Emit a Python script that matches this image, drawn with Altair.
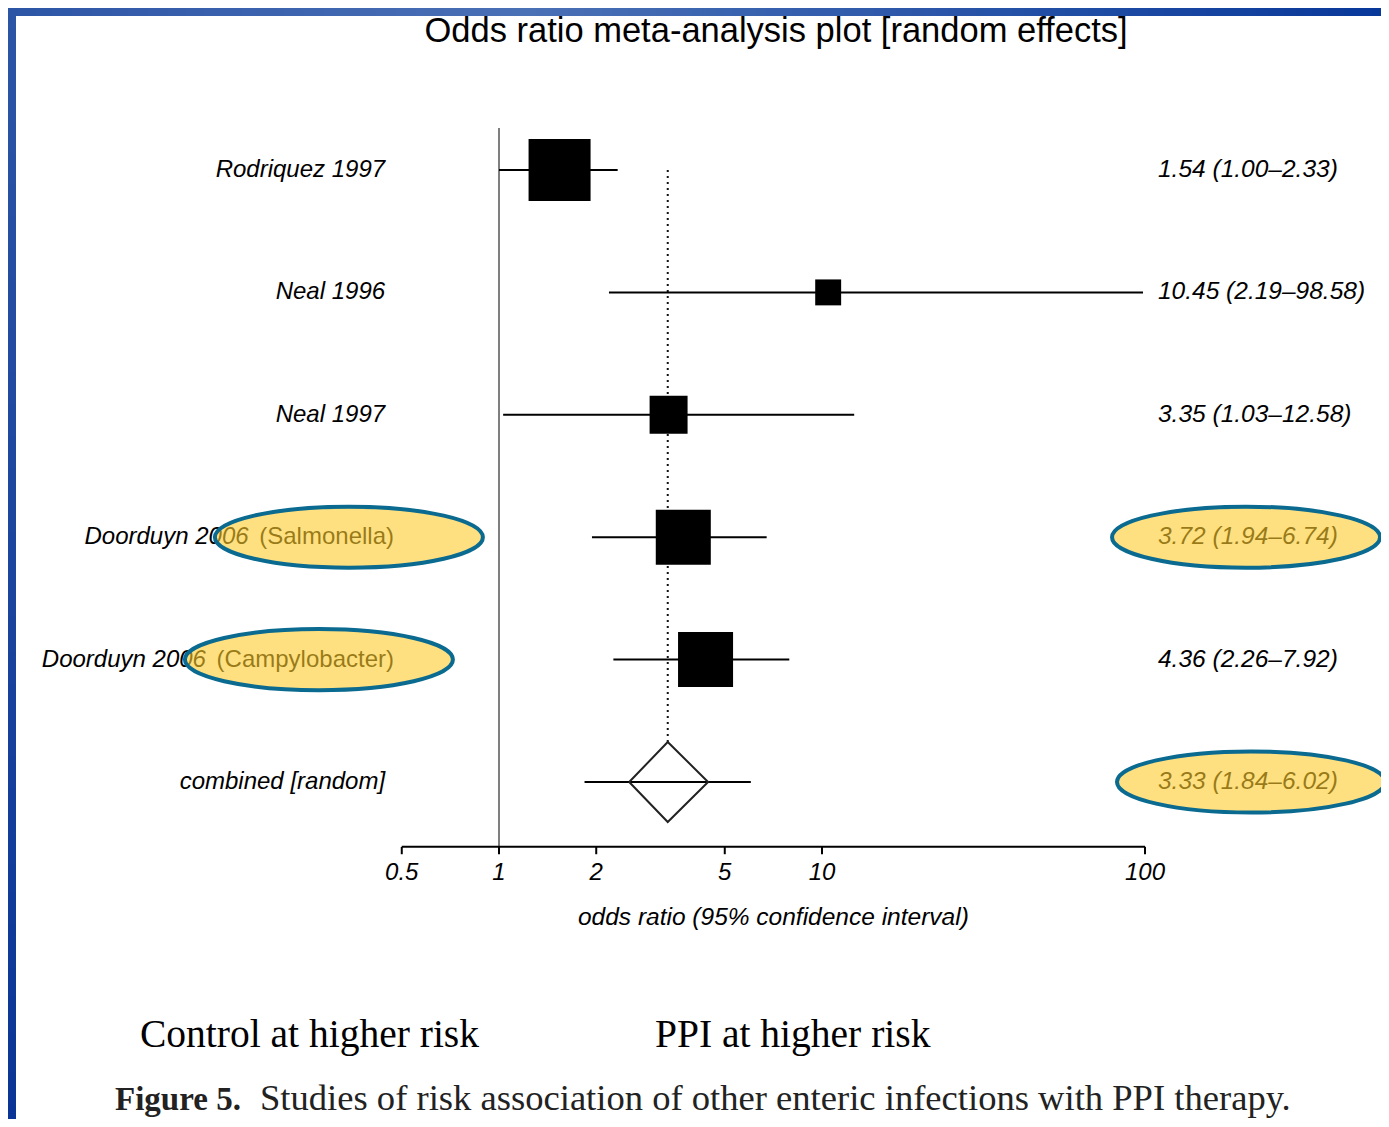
import altair as alt
import pandas as pd

# ---------------- data ----------------
studies = ["Rodriquez 1997", "Neal 1996", "Neal 1997", "Doorduyn 2006", "Doorduyn 2006"]
subgroups = ["", "", "", "(Salmonella)", "(Campylobacter)"]
odds = [1.54, 10.45, 3.35, 3.72, 4.36]
ci_low = [1.00, 2.19, 1.03, 1.94, 2.26]
ci_high = [2.33, 98.58, 12.58, 6.74, 7.92]
weights = [32.0, 5.6, 12.0, 25.2, 25.2]          # % weight -> box area

pooled_label = "combined [random]"
pooled_or = 3.33
pooled_low = 1.84
pooled_high = 6.02
diamond_low = 2.53
diamond_high = 4.44

tick_values = [0.5, 1, 2, 5, 10, 100]
tick_labels = ["0.5", "1", "2", "5", "10", "100"]

title_text = "Odds ratio meta-analysis plot [random effects]"
axis_title = "odds ratio (95% confidence interval)"
left_caption = "Control at higher risk"
right_caption = "PPI at higher risk"
fig_label = "Figure 5."
fig_caption = "Studies of risk association of other enteric infections with PPI therapy."

# highlighted labels (row, position on odds-ratio axis)
highlight_rows = [3, 4, 3, 5]
highlight_x = [0.343, 0.277, 205.5, 212.9]

# ---------------- layout ----------------
W, H = 1373, 1111
PX_DEC = 323.0      # pixels per decade
X_ONE = 491.0       # pixel of OR = 1
ROW0 = 162.0        # pixel of first row
STEP = 122.4        # pixels per row
xmin = 10 ** (-X_ONE / PX_DEC)
xmax = 10 ** ((W - X_ONE) / PX_DEC)
ymin = -ROW0 / STEP
ymax = (H - ROW0) / STEP

AXIS_ROW = 5.53
DIA_HALF = 0.327
LABEL_X = 0.444     # right edge of study labels (odds-ratio axis units)
SUFFIX_X = 0.473    # right edge of subgroup suffixes
STAT_X = 109.7      # left edge of the estimate column
LABEL_FS = 24

FONT = "Liberation Sans"
SERIF = "Liberation Serif"

# approximate Arial advance widths (per 1000 em) for the suffix text
_ARIAL = {"(": 333, ")": 333, "S": 667, "C": 722, "a": 556, "l": 222, "m": 833,
          "o": 556, "n": 556, "e": 556, "p": 556, "y": 500, "b": 556, "c": 500,
          "t": 278, "r": 333, " ": 278}


def text_width(s, fs):
    return sum(_ARIAL.get(ch, 556) for ch in s) * fs / 1000.0


xs = alt.Scale(type="log", domain=[xmin, xmax], nice=False)
ys = alt.Scale(domain=[ymin, ymax], reverse=True, nice=False, zero=False)


def X(f):
    return alt.X(f, type="quantitative", scale=xs, axis=None)


def Y(f):
    return alt.Y(f, type="quantitative", scale=ys, axis=None)


n = len(studies)
df = pd.DataFrame({
    "study": studies, "sub": subgroups, "or": odds, "lo": ci_low, "hi": ci_high,
    "w": weights, "row": list(range(n)),
})
df["stat"] = [f"{o:.2f} ({l:.2f}\u2013{h:.2f})" for o, l, h in zip(odds, ci_low, ci_high)]

pooled_row = n
labels_df = pd.DataFrame({
    "label": studies + [pooled_label],
    "sub": subgroups + [""],
    "stat": list(df["stat"]) + [f"{pooled_or:.2f} ({pooled_low:.2f}\u2013{pooled_high:.2f})"],
    "row": list(range(n + 1)),
})
pooled_df = pd.DataFrame({"or": [pooled_or], "lo": [pooled_low], "hi": [pooled_high],
                          "row": [pooled_row]})
diamond_df = pd.DataFrame({
    "x": [diamond_low, pooled_or, diamond_high, pooled_or, diamond_low],
    "y": [pooled_row, pooled_row - DIA_HALF, pooled_row, pooled_row + DIA_HALF, pooled_row],
    "o": [0, 1, 2, 3, 4],
})
ticks_df = pd.DataFrame({"v": tick_values, "t": tick_labels})
hl_df = pd.DataFrame({"x": highlight_x, "row": highlight_rows})
one = pd.DataFrame({"a": [0]})

# ---------------- layers ----------------
border_top = alt.Chart(one).mark_rect(
    fill=alt.Gradient(gradient="linear", x1=0, x2=1, y1=0, y2=0,
                      stops=[alt.GradientStop(color="#2d55a6", offset=0),
                             alt.GradientStop(color="#4a71b6", offset=0.38),
                             alt.GradientStop(color="#08389a", offset=1)])
).encode(x=alt.value(0), x2=alt.value(W), y=alt.value(0), y2=alt.value(8))

border_left = alt.Chart(one).mark_rect(
    fill=alt.Gradient(gradient="linear", x1=0, x2=0, y1=0, y2=1,
                      stops=[alt.GradientStop(color="#2d55a6", offset=0),
                             alt.GradientStop(color="#0a3596", offset=1)])
).encode(x=alt.value(0), x2=alt.value(8), y=alt.value(0), y2=alt.value(H))

ref_line = alt.Chart(pd.DataFrame({"x": [1.0], "y": [-0.343], "y2": [AXIS_ROW]})).mark_rule(
    color="#7f7f7f", strokeWidth=2
).encode(x=X("x"), y=Y("y"), y2="y2")

dotted = alt.Chart(pd.DataFrame({"x": [pooled_or], "y": [0.0], "y2": [pooled_row - DIA_HALF]})).mark_rule(
    color="#111111", strokeWidth=2, strokeDash=[2, 4]
).encode(x=X("x"), y=Y("y"), y2="y2")

ci = alt.Chart(df).mark_rule(color="black", strokeWidth=2).encode(
    x=X("lo"), x2="hi", y=Y("row"))

boxes = alt.Chart(df).mark_square(color="black", opacity=1, strokeWidth=0).encode(
    x=X("or"), y=Y("row"),
    size=alt.Size("w:Q", scale=alt.Scale(domain=[0, 100], range=[0, 12014]), legend=None))

pooled_ci = alt.Chart(pooled_df).mark_rule(color="black", strokeWidth=2).encode(
    x=X("lo"), x2="hi", y=Y("row"))

diamond = alt.Chart(diamond_df).mark_line(color="#222222", strokeWidth=2).encode(
    x=X("x"), y=Y("y"), order="o:Q")

axis_line = alt.Chart(pd.DataFrame({"a": [tick_values[0]], "b": [tick_values[-1]], "y": [AXIS_ROW]})).mark_rule(
    color="black", strokeWidth=2
).encode(x=X("a"), x2="b", y=Y("y"))

ticks = alt.Chart(ticks_df).transform_calculate(y=str(AXIS_ROW), y2=str(AXIS_ROW + 0.06)).mark_rule(
    color="black", strokeWidth=2
).encode(x=X("v"), y=Y("y"), y2="y2")

tick_text = alt.Chart(ticks_df).transform_calculate(y=str(AXIS_ROW + 0.21)).mark_text(
    font=FONT, fontSize=24, fontStyle="italic", color="black", baseline="middle", align="center"
).encode(x=X("v"), y=Y("y"), text="t:N")

axis_title_t = alt.Chart(pd.DataFrame({"x": [(tick_values[0] * tick_values[-1]) ** 0.5],
                                       "y": [6.11], "t": [axis_title]})).mark_text(
    font=FONT, fontSize=24.5, fontStyle="italic", color="black", baseline="middle", align="center"
).encode(x=X("x"), y=Y("y"), text="t:N")

# plain study labels (no subgroup)
row_labels = alt.Chart(labels_df).transform_filter("datum.sub == ''").transform_calculate(
    x=str(LABEL_X)).mark_text(
    font=FONT, fontSize=LABEL_FS, fontStyle="italic", color="black", baseline="middle", align="right"
).encode(x=X("x"), y=Y("row"), text="label:N")

# study labels with an upright subgroup suffix
sub_layers = []
for i, s in enumerate(subgroups):
    if not s:
        continue
    one_row = labels_df[labels_df["row"] == i]
    sub_layers.append(
        alt.Chart(one_row).transform_calculate(x=str(SUFFIX_X)).mark_text(
            font=FONT, fontSize=LABEL_FS, fontStyle="italic", color="black",
            baseline="middle", align="right", dx=-(text_width(" " + s, LABEL_FS) + 4)
        ).encode(x=X("x"), y=Y("row"), text="label:N")
    )
    sub_layers.append(
        alt.Chart(one_row).transform_calculate(x=str(SUFFIX_X)).mark_text(
            font=FONT, fontSize=LABEL_FS, color="black", baseline="middle", align="right"
        ).encode(x=X("x"), y=Y("row"), text="sub:N")
    )

stat_labels = alt.Chart(labels_df).transform_calculate(x=str(STAT_X)).mark_text(
    font=FONT, fontSize=24.5, fontStyle="italic", color="black", baseline="middle", align="left"
).encode(x=X("x"), y=Y("row"), text="stat:N")

ELLIPSE = "M-1,0A1,0.228,0,1,1,1,0A1,0.228,0,1,1,-1,0Z"
ellipses = alt.Chart(hl_df).mark_point(
    shape=ELLIPSE, size=268 * 268, filled=True, fill="#fdcb2b", fillOpacity=0.6,
    stroke="#0a6a90", strokeOpacity=1, strokeWidth=4, opacity=1, dy=-2
).encode(x=X("x"), y=Y("row"))

title = alt.Chart(pd.DataFrame({"t": [title_text]})).mark_text(
    font=FONT, fontSize=34.5, color="black", baseline="middle", align="center"
).encode(x=alt.value(768), y=alt.value(24), text="t:N")

cap_l = alt.Chart(pd.DataFrame({"t": [left_caption]})).mark_text(
    font=SERIF, fontSize=39.5, color="black", baseline="middle", align="left"
).encode(x=alt.value(132), y=alt.value(1027), text="t:N")

cap_r = alt.Chart(pd.DataFrame({"t": [right_caption]})).mark_text(
    font=SERIF, fontSize=39.5, color="black", baseline="middle", align="left"
).encode(x=alt.value(647), y=alt.value(1027), text="t:N")

fig_l = alt.Chart(pd.DataFrame({"t": [fig_label]})).mark_text(
    font=SERIF, fontSize=33, fontWeight="bold", color="#222222", baseline="alphabetic", align="left"
).encode(x=alt.value(107), y=alt.value(1102), text="t:N")

fig_c = alt.Chart(pd.DataFrame({"t": [fig_caption]})).mark_text(
    font=SERIF, fontSize=36.6, color="#222222", baseline="alphabetic", align="left"
).encode(x=alt.value(252), y=alt.value(1102), text="t:N")

chart = alt.layer(
    border_top, border_left,
    ref_line, dotted, ci, boxes, pooled_ci, diamond,
    axis_line, ticks, tick_text, axis_title_t,
    row_labels, *sub_layers, stat_labels, ellipses,
    title, cap_l, cap_r, fig_l, fig_c,
).properties(
    width=W, height=H, padding=0, background="white",
    autosize=alt.AutoSizeParams(type="none"),
).configure_view(stroke=None)

chart.save("out.html", embed_options={"renderer": "svg", "actions": False})
